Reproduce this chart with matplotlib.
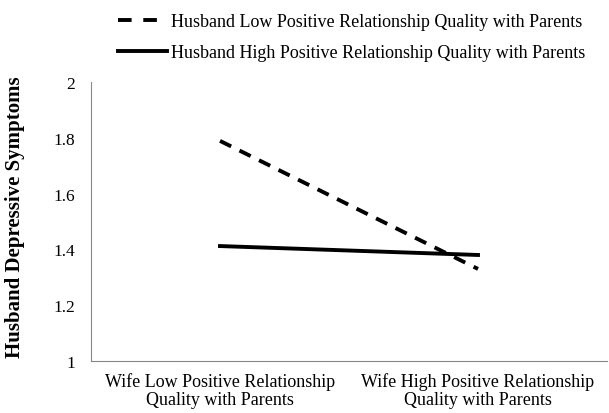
import matplotlib.pyplot as plt
from matplotlib.lines import Line2D

# data
categories = ['Wife Low Positive Relationship\nQuality with Parents',
              'Wife High Positive Relationship\nQuality with Parents']
low_quality = [1.789, 1.33]
high_quality = [1.412, 1.38]
series_labels = ['Husband Low Positive Relationship Quality with Parents',
                 'Husband High Positive Relationship Quality with Parents']
y_ticks = [1, 1.2, 1.4, 1.6, 1.8, 2]
y_tick_labels = ['1', '1.2', '1.4', '1.6', '1.8', '2']

plt.rcParams['font.family'] = ['Liberation Serif', 'DejaVu Serif']

fig = plt.figure(figsize=(6.09, 4.14), dpi=100)
ax = fig.add_axes([91 / 609, 1 - 362 / 414, 516 / 609, 279 / 414])

x = list(range(len(categories)))
ax.plot(x, low_quality, color='black', linewidth=2.8, linestyle=(0, (3.2, 2.4)))
ax.plot(x, high_quality, color='black', linewidth=2.8)

ax.set_xlim(-0.5, 1.5)
ax.set_ylim(1, 2)
ax.set_yticks(y_ticks)
ax.set_yticklabels(y_tick_labels, fontsize=12.5)
ax.set_xticks(x)
ax.set_xticklabels(categories, fontsize=13, linespacing=1.05)
ax.tick_params(axis='y', length=0, pad=11.5)
ax.tick_params(axis='x', length=0, pad=8)

for side in ['top', 'right']:
    ax.spines[side].set_visible(False)
ax.spines['left'].set_color('#888888')
ax.spines['bottom'].set_color('#888888')

ax.set_ylabel('Husband Depressive Symptoms', fontsize=15, fontweight='bold')
ax.yaxis.set_label_coords(-0.128, 0.52)

handles = [Line2D([], [], color='black', linewidth=2.8, linestyle=(0, (3.5, 3))),
           Line2D([], [], color='black', linewidth=2.8)]
fig.legend(handles, series_labels, loc='upper left', bbox_to_anchor=(102 / 609, 1.005),
           frameon=False, fontsize=13, handlelength=2.7, handletextpad=0.22,
           labelspacing=0.78)

fig.savefig('out.png', dpi=100)
